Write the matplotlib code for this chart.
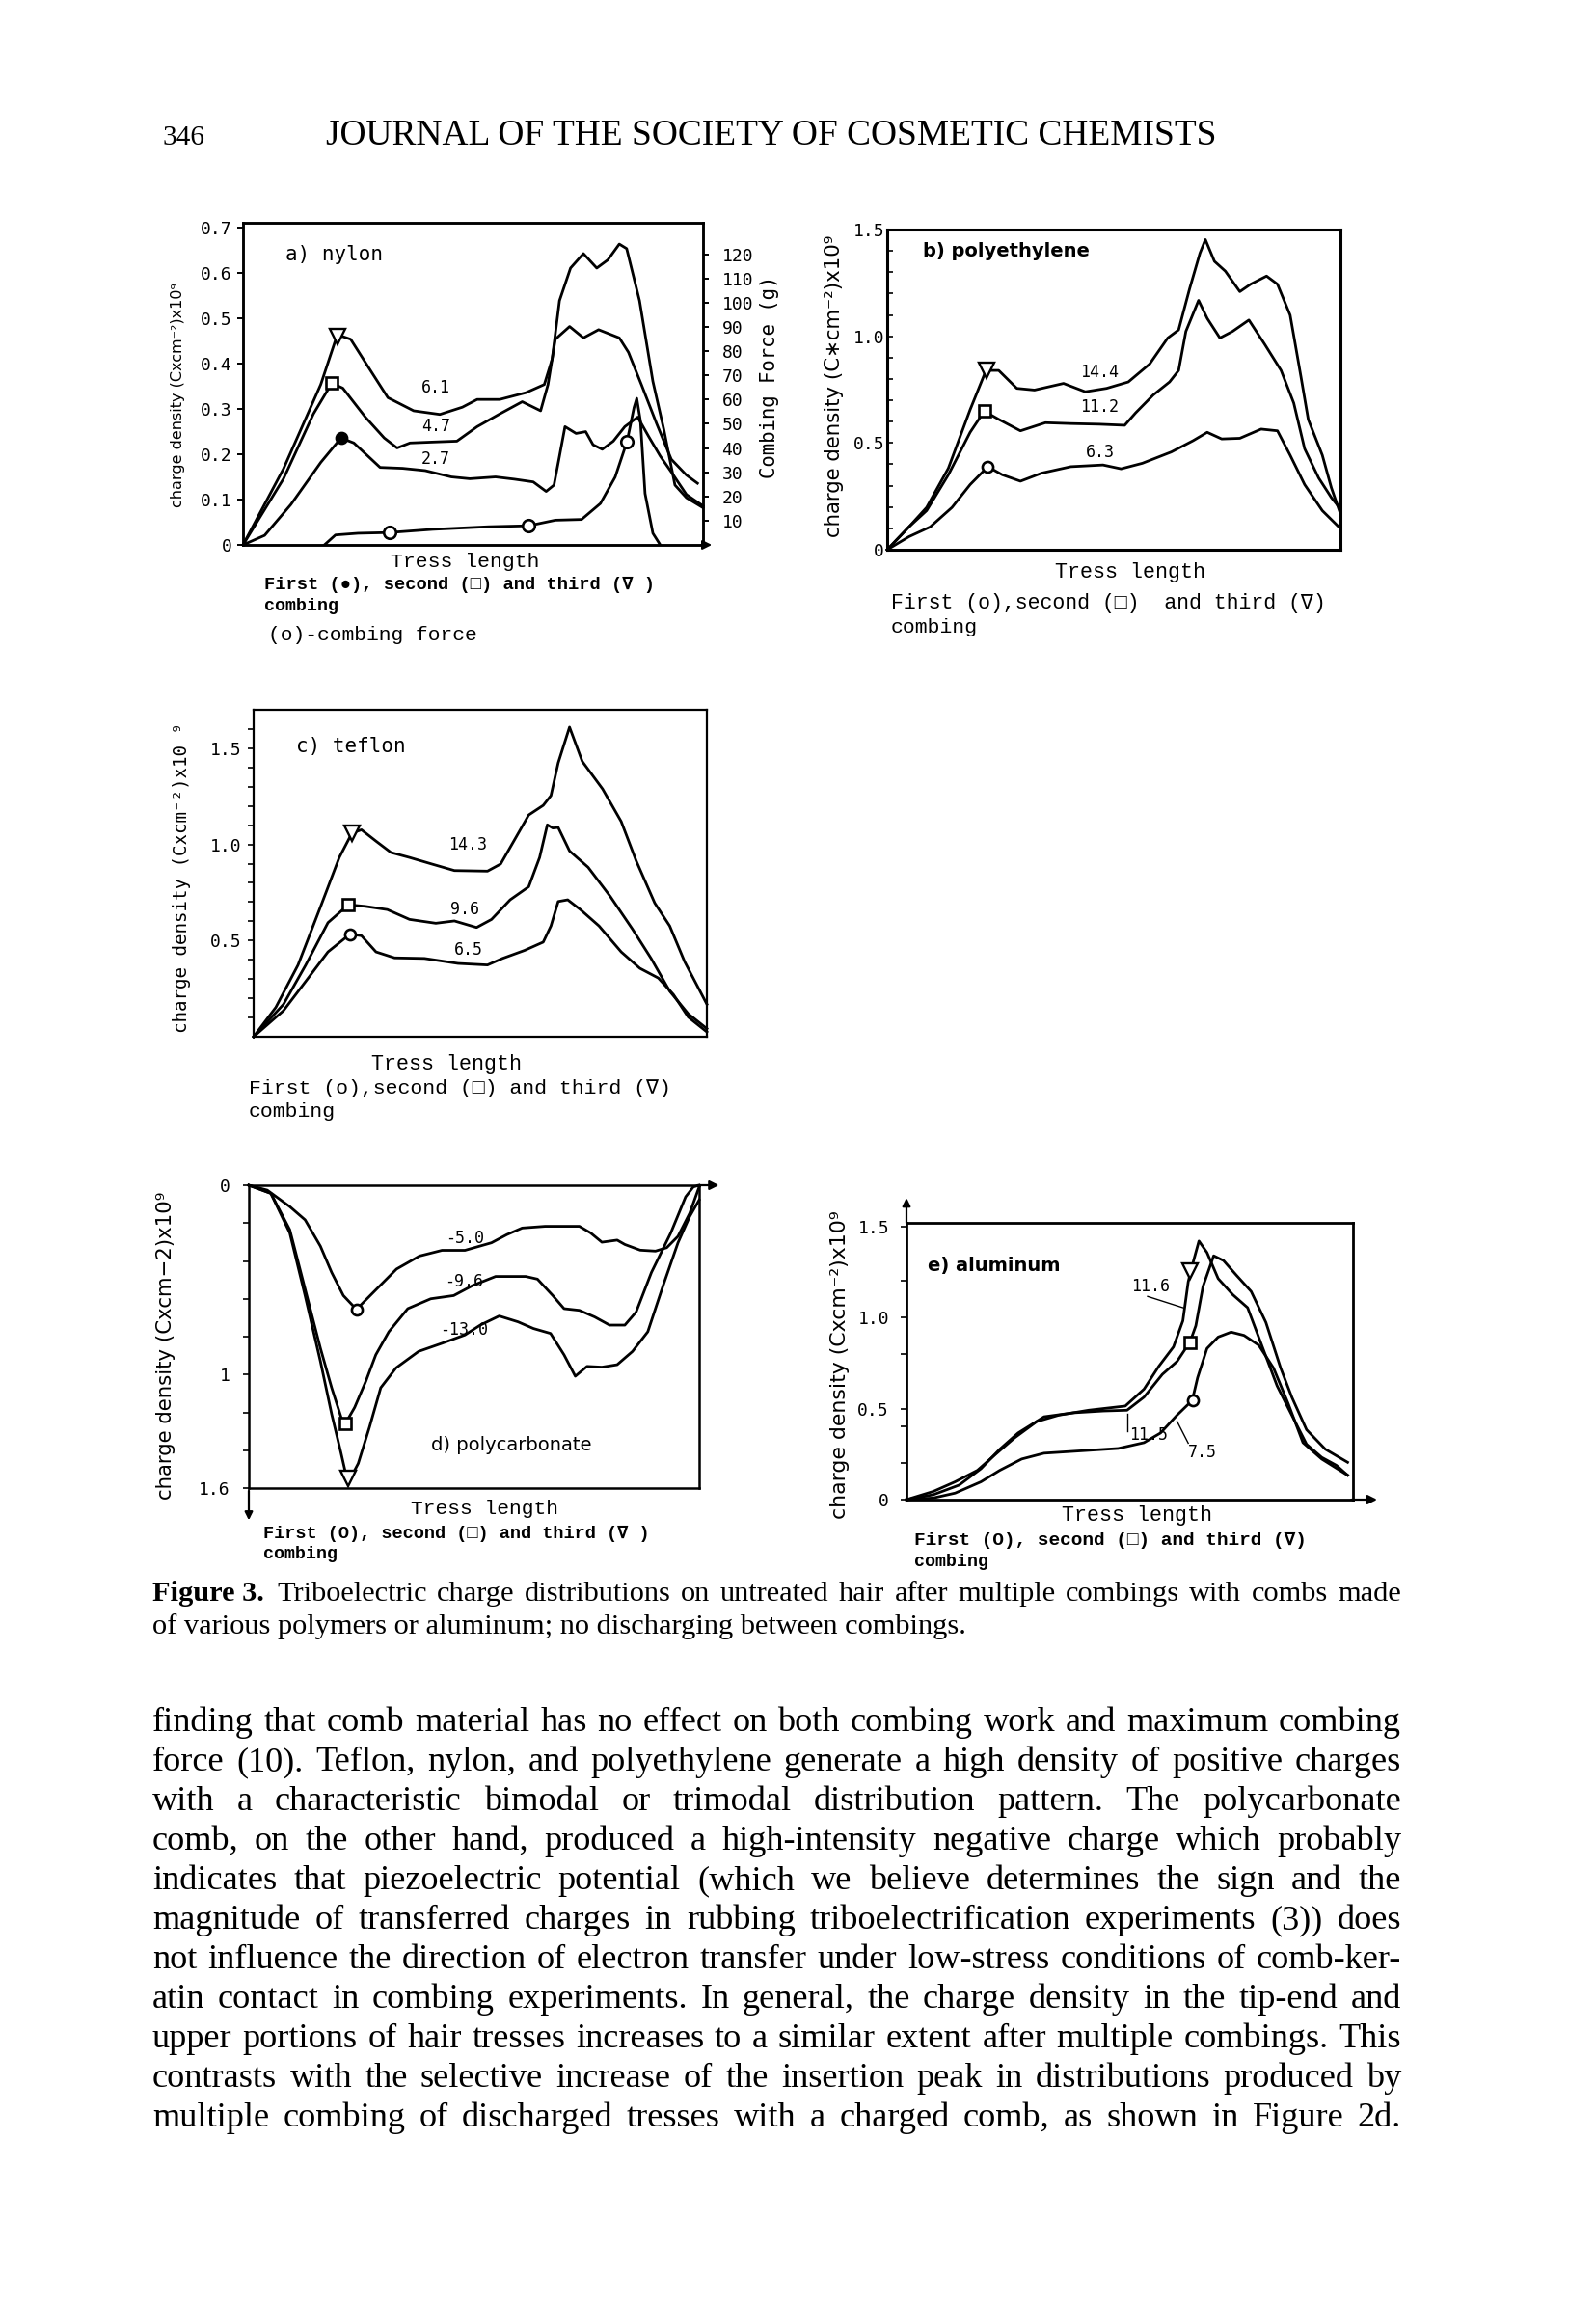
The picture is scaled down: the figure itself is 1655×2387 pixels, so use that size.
import matplotlib
matplotlib.use("Agg")
import matplotlib.pyplot as plt
from matplotlib.ticker import FixedLocator

W, H = 1655, 2387
fig = plt.figure(figsize=(W / 100, H / 100), dpi=100)
fig.patch.set_facecolor("white")
R = fig.canvas.get_renderer()

MONO = ["DejaVu Sans Mono", "DejaVu Sans"]
TYPE = ["Liberation Mono", "DejaVu Sans Mono"]
SERIF = ["Liberation Serif", "DejaVu Serif"]
SANS = ["DejaVu Sans"]

# ---------------- data ----------------
# a) nylon  (x = % of tress length, y = charge density)
a_third_x = [0, 8.8, 16.9, 20.5, 23.4, 27.4, 31.5, 37.1, 42.8, 47.7, 50.9, 55.8, 61.5, 65.5, 67.2, 68.8, 71.2, 74.0, 76.9, 79.3, 81.8, 83.4, 86.2, 89.1, 91.5, 93.9, 96.4, 100]
a_third_y = [0, 0.168, 0.354, 0.464, 0.454, 0.39, 0.325, 0.296, 0.288, 0.304, 0.321, 0.321, 0.336, 0.354, 0.41, 0.539, 0.611, 0.643, 0.611, 0.629, 0.664, 0.654, 0.539, 0.361, 0.254, 0.132, 0.104, 0.082]
a_second_x = [0, 8.8, 15.3, 19.3, 21.7, 26.6, 30.7, 33.5, 36.3, 41.2, 46.5, 50.9, 55.8, 60.7, 64.7, 66.3, 67.9, 71.0, 74.0, 77.3, 81.8, 83.8, 86.6, 89.9, 93.1, 96.4, 98.8]
a_second_y = [0, 0.146, 0.289, 0.357, 0.346, 0.282, 0.236, 0.214, 0.225, 0.227, 0.229, 0.261, 0.289, 0.316, 0.296, 0.354, 0.454, 0.482, 0.457, 0.475, 0.457, 0.425, 0.354, 0.268, 0.189, 0.154, 0.136]
a_first_x = [0, 4.7, 10.4, 16.9, 21.3, 24.1, 29.8, 34.7, 39.6, 45.3, 49.3, 54.9, 59.0, 63.1, 65.9, 67.6, 68.8, 70.0, 72.4, 74.5, 76.1, 78.1, 80.5, 83.0, 85.8, 88.2, 90.7, 93.1, 96.4, 100]
a_first_y = [0, 0.021, 0.089, 0.182, 0.236, 0.225, 0.171, 0.169, 0.164, 0.15, 0.146, 0.15, 0.145, 0.139, 0.118, 0.132, 0.196, 0.261, 0.246, 0.25, 0.221, 0.211, 0.229, 0.261, 0.282, 0.239, 0.196, 0.161, 0.111, 0.086]
a_force_x = [17.7, 20.1, 25.0, 31.9, 41.2, 53.4, 62.1, 67.9, 73.6, 77.7, 80.9, 83.5, 85.0, 85.6, 86.4, 87.4, 89.1, 90.7]
a_force_g = [0, 4.1, 4.8, 5.1, 6.4, 7.5, 7.9, 10.2, 10.5, 17.1, 28, 42.8, 56.7, 60.5, 51.2, 21.2, 4.8, 0]
a_force_mark_x = [31.9, 62.1, 83.5]
a_force_mark_g = [5.1, 7.9, 42.8]
a_marks = [(20.5, 0.46), (19.3, 0.357), (21.3, 0.236)]  # third, second, first
a_work = ["6.1", "4.7", "2.7"]
a_work_pos = [(38.8, 0.346), (38.8, 0.262), (38.8, 0.19)]
a_left_ticks = [0, 0.1, 0.2, 0.3, 0.4, 0.5, 0.6, 0.7]
a_left_labels = ["0", "0.1", "0.2", "0.3", "0.4", "0.5", "0.6", "0.7"]
a_right_ticks = [10, 20, 30, 40, 50, 60, 70, 80, 90, 100, 110, 120]

# b) polyethylene
b_third_x = [0, 4.8, 8.7, 13.5, 18.3, 21.8, 24.6, 28.6, 32.5, 38.9, 43.7, 48.4, 53.2, 57.9, 61.9, 64.3, 66.7, 69.0, 70.2, 72.2, 74.6, 77.8, 80.2, 83.7, 86.1, 88.9, 91.3, 92.9, 96.0, 98.0, 100]
b_third_y = [0, 0.107, 0.198, 0.382, 0.656, 0.84, 0.84, 0.756, 0.748, 0.779, 0.74, 0.756, 0.786, 0.87, 0.992, 1.03, 1.221, 1.389, 1.453, 1.351, 1.305, 1.209, 1.244, 1.282, 1.244, 1.099, 0.809, 0.61, 0.443, 0.29, 0.168]
b_second_x = [0, 4.8, 8.7, 13.5, 18.3, 21.4, 24.6, 29.4, 34.9, 40.5, 46.8, 52.4, 54.8, 58.7, 62.3, 64.3, 65.9, 68.7, 70.6, 73.4, 76.2, 79.8, 83.3, 86.9, 89.7, 92.1, 95.2, 98.0, 100]
b_second_y = [0, 0.107, 0.183, 0.351, 0.55, 0.649, 0.611, 0.557, 0.595, 0.591, 0.588, 0.583, 0.641, 0.725, 0.786, 0.84, 1.023, 1.168, 1.084, 0.992, 1.023, 1.076, 0.962, 0.84, 0.687, 0.473, 0.336, 0.244, 0.191]
b_first_x = [0, 4.8, 9.5, 14.3, 18.3, 22.2, 25.4, 29.4, 34.1, 40.5, 47.6, 51.6, 56.3, 62.7, 67.5, 70.6, 73.8, 77.8, 82.5, 86.1, 88.9, 92.1, 96.0, 100]
b_first_y = [0, 0.061, 0.107, 0.198, 0.305, 0.389, 0.351, 0.321, 0.359, 0.389, 0.397, 0.379, 0.405, 0.458, 0.511, 0.55, 0.519, 0.522, 0.565, 0.557, 0.443, 0.305, 0.183, 0.099]
b_marks = [(22.0, 0.84), (21.4, 0.649), (22.2, 0.389)]
b_work = ["14.4", "11.2", "6.3"]
b_work_pos = [(42.5, 0.832), (42.5, 0.668), (43.7, 0.458)]

# c) teflon
c_third_x = [0, 4.9, 9.8, 14.8, 18.9, 21.7, 23.8, 27.0, 30.3, 34.4, 39.3, 44.3, 51.6, 54.5, 57.4, 60.7, 63.9, 65.6, 67.2, 69.7, 72.5, 77.0, 81.1, 84.4, 88.5, 91.8, 95.1, 100]
c_third_y = [0, 0.153, 0.373, 0.678, 0.932, 1.059, 1.076, 1.017, 0.958, 0.932, 0.898, 0.864, 0.861, 0.898, 1.017, 1.153, 1.203, 1.254, 1.424, 1.61, 1.432, 1.288, 1.119, 0.915, 0.695, 0.576, 0.39, 0.169]
c_second_x = [0, 6.6, 11.5, 16.4, 20.9, 24.6, 29.5, 34.4, 40.2, 44.3, 49.2, 52.5, 56.6, 60.7, 63.1, 64.8, 66.0, 67.2, 69.7, 73.8, 78.7, 83.6, 87.7, 91.8, 95.9, 100]
c_second_y = [0, 0.169, 0.373, 0.593, 0.686, 0.678, 0.661, 0.61, 0.59, 0.602, 0.568, 0.61, 0.712, 0.78, 0.932, 1.102, 1.085, 1.088, 0.966, 0.881, 0.729, 0.559, 0.407, 0.237, 0.119, 0.042]
c_first_x = [0, 6.6, 11.5, 16.4, 21.3, 23.8, 27.0, 31.1, 37.7, 45.1, 51.6, 54.9, 59.8, 63.9, 65.6, 67.2, 69.3, 72.1, 76.2, 81.1, 85.2, 89.3, 92.6, 95.9, 100]
c_first_y = [0, 0.136, 0.288, 0.441, 0.534, 0.525, 0.441, 0.41, 0.407, 0.381, 0.373, 0.407, 0.449, 0.492, 0.576, 0.703, 0.712, 0.661, 0.576, 0.441, 0.356, 0.305, 0.22, 0.102, 0.025]
c_marks = [(21.7, 1.06), (20.9, 0.686), (21.3, 0.534)]
c_work = ["14.3", "9.6", "6.5"]
c_work_pos = [(43.0, 1.0), (43.4, 0.664), (44.3, 0.449)]

# d) polycarbonate (magnitude of negative charge, axis points down)
d_first_x = [0, 4.1, 9.1, 12.5, 15.9, 18.4, 21.0, 23.9, 27.7, 32.8, 37.9, 42.9, 48.0, 53.9, 57.3, 60.7, 65.8, 73.4, 75.9, 78.4, 81.8, 83.5, 86.9, 90.3, 92.8, 95.3, 97.9, 100]
d_first_y = [0, 0.026, 0.113, 0.183, 0.322, 0.461, 0.583, 0.656, 0.565, 0.443, 0.374, 0.344, 0.344, 0.304, 0.261, 0.226, 0.217, 0.217, 0.252, 0.301, 0.29, 0.313, 0.343, 0.348, 0.33, 0.27, 0.148, 0.009]
d_second_x = [0, 4.9, 9.1, 12.5, 15.9, 18.4, 20.5, 21.4, 23.5, 26.0, 28.2, 31.1, 35.3, 40.4, 45.5, 49.7, 54.8, 61.5, 64.1, 67.5, 70.0, 73.4, 76.8, 80.1, 83.5, 86.0, 89.4, 93.7, 97.0, 98.7, 100]
d_second_y = [0, 0.043, 0.235, 0.548, 0.861, 1.07, 1.226, 1.261, 1.174, 1.035, 0.896, 0.774, 0.652, 0.6, 0.583, 0.53, 0.482, 0.482, 0.496, 0.583, 0.652, 0.661, 0.696, 0.739, 0.739, 0.67, 0.461, 0.252, 0.061, 0.009, 0.0]
d_third_x = [0, 4.9, 9.1, 12.5, 15.9, 18.4, 20.5, 22.0, 24.3, 26.8, 29.3, 32.7, 37.7, 42.9, 48.0, 51.4, 55.6, 59.8, 63.2, 67.0, 70.0, 72.5, 75.1, 78.4, 81.8, 85.2, 88.6, 92.0, 95.3, 97.9, 100]
d_third_y = [0, 0.043, 0.252, 0.583, 0.93, 1.209, 1.417, 1.574, 1.47, 1.278, 1.07, 0.965, 0.878, 0.835, 0.791, 0.739, 0.691, 0.722, 0.757, 0.783, 0.896, 1.009, 0.957, 0.961, 0.948, 0.878, 0.774, 0.53, 0.304, 0.165, 0.078]
d_marks = [(22.0, 1.548), (21.4, 1.261), (23.9, 0.656)]
d_work = ["-5.0", "-9.6", "-13.0"]
d_work_pos = [(43.8, 0.278), (43.4, 0.51), (42.5, 0.765)]

# e) aluminum
e_third_x = [0, 6.0, 10.9, 15.9, 20.0, 24.2, 29.2, 34.1, 40.8, 49.0, 53.2, 56.5, 59.8, 61.9, 63.1, 64.0, 65.5, 67.3, 69.8, 73.1, 76.4, 79.7, 83.0, 86.3, 89.6, 93.0, 96.3, 98.8]
e_third_y = [0, 0.045, 0.098, 0.161, 0.25, 0.339, 0.429, 0.464, 0.491, 0.514, 0.607, 0.732, 0.839, 0.982, 1.196, 1.286, 1.42, 1.357, 1.214, 1.125, 1.054, 0.839, 0.625, 0.464, 0.304, 0.232, 0.188, 0.134]
e_second_x = [0, 6.0, 11.8, 16.7, 20.9, 25.0, 30.8, 37.4, 44.1, 49.4, 53.2, 57.3, 60.6, 63.5, 64.8, 66.4, 68.8, 71.0, 73.9, 77.2, 80.5, 83.8, 86.3, 89.6, 93.8, 98.8]
e_second_y = [0, 0.027, 0.08, 0.17, 0.277, 0.366, 0.455, 0.477, 0.487, 0.491, 0.563, 0.688, 0.759, 0.866, 0.955, 1.17, 1.339, 1.313, 1.232, 1.143, 0.973, 0.723, 0.563, 0.384, 0.277, 0.205]
e_first_x = [0, 6.0, 10.9, 16.7, 20.9, 25.8, 30.8, 39.1, 47.4, 53.2, 56.9, 60.6, 64.0, 65.2, 67.3, 69.8, 72.7, 75.6, 78.9, 82.2, 85.5, 88.8, 93.0, 98.8]
e_first_y = [0, 0.009, 0.036, 0.098, 0.161, 0.223, 0.255, 0.268, 0.281, 0.313, 0.366, 0.464, 0.545, 0.67, 0.83, 0.893, 0.92, 0.902, 0.848, 0.723, 0.527, 0.313, 0.223, 0.134]
e_marks = [(63.5, 1.255), (63.4, 0.863), (64.2, 0.545)]
e_work = ["11.6", "11.5", "7.5"]
e_work_pos = [(50.3, 1.17), (49.9, 0.357), (63.1, 0.259)]
e_leaders = [((54.0, 61.9), (1.116, 1.054)), ((49.5, 49.5), (0.473, 0.375)), ((60.6, 63.1), (0.43, 0.31))]

header_num = "346"
header_title = "JOURNAL OF THE SOCIETY OF COSMETIC CHEMISTS"
caption = ["Figure 3.", "Triboelectric charge distributions on untreated hair after multiple combings with combs made",
           "of various polymers or aluminum; no discharging between combings."]
body = [
    "finding that comb material has no effect on both combing work and maximum combing",
    "force (10). Teflon, nylon, and polyethylene generate a high density of positive charges",
    "with a characteristic bimodal or trimodal distribution pattern. The polycarbonate",
    "comb, on the other hand, produced a high-intensity negative charge which probably",
    "indicates that piezoelectric potential (which we believe determines the sign and the",
    "magnitude of transferred charges in rubbing triboelectrification experiments (3)) does",
    "not influence the direction of electron transfer under low-stress conditions of comb-ker-",
    "atin contact in combing experiments. In general, the charge density in the tip-end and",
    "upper portions of hair tresses increases to a similar extent after multiple combings. This",
    "contrasts with the selective increase of the insertion peak in distributions produced by",
    "multiple combing of discharged tresses with a charged comb, as shown in Figure 2d.",
]

# ---------------- helpers ----------------
def fx(x):
    return x / W

def fy(y):
    return 1 - y / H

def axes_px(l, t, r, b):
    return fig.add_axes([l / W, 1 - b / H, (r - l) / W, (b - t) / H])

def text_width(s, size, **kw):
    t = fig.text(0, 0, s, fontsize=size, **kw)
    w = t.get_window_extent(R).width
    t.remove()
    return w

def ftext(x, y, s, fit_w=None, fit_h=None, size=14, **kw):
    t = fig.text(fx(x), fy(y), s, fontsize=size, **kw)
    if fit_w or fit_h:
        bb = t.get_window_extent(R)
        if fit_w:
            t.set_fontsize(size * fit_w / bb.width)
        else:
            t.set_fontsize(size * fit_h / bb.height)
    return t

def justify(line, x0, x1, ybase, size, family, weight="normal"):
    words = line.split()
    widths = [text_width(w, size, family=family, weight=weight) for w in words]
    gap = (x1 - x0 - sum(widths)) / max(len(words) - 1, 1)
    x = x0
    for w, wd in zip(words, widths):
        fig.text(fx(x), fy(ybase), w, fontsize=size, family=family, weight=weight, va="baseline")
        x += wd + gap

def style_axes(ax, lw=1.8):
    for s in ax.spines.values():
        s.set_linewidth(lw)
    ax.set_xlim(0, 100)
    ax.set_xticks([])
    ax.set_facecolor("none")

LW = 2.0
MS_T, MS_S, MS_O = 12, 8, 8

def curve(ax, x, y):
    ax.plot(x, y, color="black", lw=LW, solid_joinstyle="round", clip_on=False)

def marks(ax, m, first_filled=False):
    (x3, y3), (x2, y2), (x1, y1) = m
    ax.plot([x3], [y3], marker="v", ms=MS_T, mfc="white", mec="black", mew=1.7, clip_on=False)
    ax.plot([x2], [y2], marker="s", ms=MS_S, mfc="white", mec="black", mew=1.9, clip_on=False)
    ax.plot([x1], [y1], marker="o", ms=MS_O, mfc=("black" if first_filled else "white"), mec="black", mew=1.9, clip_on=False)

def work_labels(ax, labels, pos, size=12):
    for s, (x, y) in zip(labels, pos):
        ax.text(x, y, s, fontsize=size, family=MONO, ha="left", va="center")

TICKFS = 13
LM, RM = 158, 1453

# ---------------- header ----------------
ftext(168, 150, header_num, size=26, family=SERIF, va="baseline", fit_w=44)
ftext(338, 150, header_title, size=26, family=SERIF, va="baseline", fit_w=922)

# ---------------- panel a ----------------
axa = axes_px(252, 231, 729, 565)
style_axes(axa)
axa.set_ylim(0, 0.711)
curve(axa, a_third_x, a_third_y)
curve(axa, a_second_x, a_second_y)
curve(axa, a_first_x, a_first_y)
marks(axa, a_marks, first_filled=True)
work_labels(axa, a_work, a_work_pos)
axa.text(9.2, 0.64, "a) nylon", fontsize=15, family=MONO, va="center")
axa.set_yticks(a_left_ticks)
axa.set_yticklabels(a_left_labels, family=MONO, fontsize=TICKFS)
axa.tick_params(axis="y", direction="out", length=4, width=1.4, pad=4)
axa2 = axa.twinx()
axa2.set_ylim(0, 133)
axa2.set_xlim(0, 100)
axa2.plot(a_force_x, a_force_g, color="black", lw=LW)
axa2.plot(a_force_mark_x, a_force_mark_g, ls="none", marker="o", ms=MS_O + 1, mfc="white", mec="black", mew=1.9)
axa2.set_yticks(a_right_ticks)
axa2.set_yticklabels([str(v) for v in a_right_ticks], family=MONO, fontsize=TICKFS)
axa2.tick_params(axis="y", direction="out", length=4, width=1.4, pad=10)
for s in axa2.spines.values():
    s.set_linewidth(1.8)
axa.annotate("", xy=(1.025, 0), xytext=(0.99, 0), xycoords="axes fraction",
             arrowprops=dict(arrowstyle="-|>", color="black", lw=1.5, mutation_scale=14))
ftext(184, 410, "charge density (Cxcm\u207b\u00b2)x10\u2079", size=12, family=SANS, rotation=90,
      ha="center", va="center", fit_h=232)
ftext(798, 391, "Combing Force (g)", size=15, family=MONO, rotation=90, ha="center", va="center", fit_h=212)
ftext(482, 582, "Tress length", size=15, family=TYPE, ha="center", va="center", fit_w=154)
ftext(274, 606, "First (\u25cf), second (\u25a1) and third (\u2207 )", size=13, family=TYPE,
      weight="bold", va="center", fit_w=402)
ftext(274, 628, "combing", size=13, family=TYPE, weight="bold", va="center", fit_w=76)
ftext(278, 659, "(o)-combing force", size=15, family=TYPE, va="center", fit_w=217)

# ---------------- panel b ----------------
axb = axes_px(920, 238, 1390, 570)
style_axes(axb, 2.2)
axb.set_ylim(0, 1.5)
curve(axb, b_third_x, b_third_y)
curve(axb, b_second_x, b_second_y)
curve(axb, b_first_x, b_first_y)
marks(axb, b_marks)
work_labels(axb, b_work, b_work_pos)
axb.text(7.9, 1.397, "b) polyethylene", fontsize=14, family=SANS, weight="bold", va="center")
axb.set_yticks([0, 0.5, 1.0, 1.5])
axb.set_yticklabels(["0", "0.5", "1.0", "1.5"], family=MONO, fontsize=TICKFS)
axb.yaxis.set_minor_locator(FixedLocator([0.1, 0.2, 0.3, 0.4, 0.6, 0.7, 0.8, 0.9, 1.1, 1.2, 1.3, 1.4]))
axb.tick_params(axis="y", which="both", direction="in", length=4, width=1.2, pad=2)
ftext(865, 400, "charge density (C\u2217cm\u207b\u00b2)x10\u2079", size=14, family=SANS, rotation=90,
      ha="center", va="center", fit_h=315)
ftext(1172, 593, "Tress length", size=15, family=TYPE, ha="center", va="center", fit_w=156)
ftext(924, 626, "First (o),second (\u25a1)  and third (\u2207)", size=15, family=TYPE, va="center", fit_w=453)
ftext(924, 651, "combing", size=15, family=TYPE, va="center", fit_w=90)

# ---------------- panel c ----------------
axc = axes_px(263, 736, 733, 1075)
style_axes(axc, 1.6)
axc.set_ylim(0, 1.70)
curve(axc, c_third_x, c_third_y)
curve(axc, c_second_x, c_second_y)
curve(axc, c_first_x, c_first_y)
marks(axc, c_marks)
work_labels(axc, c_work, c_work_pos)
axc.text(9.4, 1.51, "c) teflon", fontsize=15, family=MONO, va="center")
axc.set_yticks([0.5, 1.0, 1.5])
axc.set_yticklabels(["0.5", "1.0", "1.5"], family=MONO, fontsize=TICKFS)
axc.yaxis.set_minor_locator(FixedLocator([0.1, 0.2, 0.3, 0.4, 0.6, 0.7, 0.8, 0.9, 1.1, 1.2, 1.3, 1.4, 1.6]))
axc.tick_params(axis="y", which="both", direction="out", length=4, width=1.2, pad=5)
ftext(188, 910, "charge density (Cxcm\u207b\u00b2)x10 \u2079", size=14, family=MONO, rotation=90,
      ha="center", va="center", fit_h=323)
ftext(463, 1104, "Tress length", size=15, family=TYPE, ha="center", va="center", fit_w=156)
ftext(258, 1129, "First (o),second (\u25a1) and third (\u2207)", size=15, family=TYPE, va="center", fit_w=438)
ftext(258, 1152, "combing", size=15, family=TYPE, va="center", fit_w=90)

# ---------------- panel d ----------------
axd = axes_px(258, 1229, 725, 1543)
style_axes(axd, 1.8)
axd.set_ylim(1.6, 0)
curve(axd, d_first_x, d_first_y)
curve(axd, d_second_x, d_second_y)
curve(axd, d_third_x, d_third_y)
marks(axd, d_marks)
work_labels(axd, d_work, d_work_pos)
axd.text(40.4, 1.374, "d) polycarbonate", fontsize=14, family=SANS, va="center")
axd.set_yticks([0, 1.0, 1.6])
axd.set_yticklabels(["0", "1", "1.6"], family=MONO, fontsize=TICKFS)
axd.yaxis.set_minor_locator(FixedLocator([0.2, 0.4, 0.6, 0.8, 1.2, 1.4]))
axd.tick_params(axis="y", which="both", direction="out", length=4, width=1.2, pad=10)
axd.annotate("", xy=(1.05, 1), xytext=(0.99, 1), xycoords="axes fraction",
             arrowprops=dict(arrowstyle="-|>", color="black", lw=1.6, mutation_scale=14))
axd.annotate("", xy=(0, -0.115), xytext=(0, 0.0), xycoords="axes fraction",
             arrowprops=dict(arrowstyle="-|>", color="black", lw=1.6, mutation_scale=12))
ftext(172, 1395, "charge density (Cxcm\u22122)x10\u2079", size=14, family=SANS, rotation=90,
      ha="center", va="center", fit_h=320)
ftext(503, 1565, "Tress length", size=15, family=TYPE, ha="center", va="center", fit_w=153)
ftext(273, 1590, "First (O), second (\u25a1) and third (\u2207 )", size=13, family=TYPE, weight="bold",
      va="center", fit_w=401)
ftext(273, 1612, "combing", size=13, family=TYPE, weight="bold", va="center", fit_w=76)

# ---------------- panel e ----------------
axe = axes_px(940, 1268, 1403, 1555)
style_axes(axe, 2.0)
axe.set_ylim(0, 1.52)
curve(axe, e_third_x, e_third_y)
curve(axe, e_second_x, e_second_y)
curve(axe, e_first_x, e_first_y)
marks(axe, e_marks)
work_labels(axe, e_work, e_work_pos)
for (lx, ly) in e_leaders:
    axe.plot(lx, ly, color="black", lw=1.0)
axe.text(4.7, 1.286, "e) aluminum", fontsize=14, family=SANS, weight="bold", va="center")
axe.set_yticks([0, 0.5, 1.0, 1.5])
axe.set_yticklabels(["0", "0.5", "1.0", "1.5"], family=MONO, fontsize=TICKFS)
axe.yaxis.set_minor_locator(FixedLocator([0.2, 0.4, 0.8, 1.2]))
axe.tick_params(axis="y", which="both", direction="out", length=4, width=1.2, pad=9)
axe.annotate("", xy=(1.06, 0), xytext=(0.99, 0), xycoords="axes fraction",
             arrowprops=dict(arrowstyle="-|>", color="black", lw=1.6, mutation_scale=14))
axe.annotate("", xy=(0, 1.1), xytext=(0, 0.99), xycoords="axes fraction",
             arrowprops=dict(arrowstyle="-|>", color="black", lw=1.6, mutation_scale=12))
ftext(871, 1415, "charge density (Cxcm\u207b\u00b2)x10\u2079", size=14, family=SANS, rotation=90,
      ha="center", va="center", fit_h=320)
ftext(1179, 1571, "Tress length", size=15, family=TYPE, ha="center", va="center", fit_w=156)
ftext(948, 1597, "First (O), second (\u25a1) and third (\u2207)", size=13, family=TYPE, weight="bold",
      va="center", fit_w=404)
ftext(948, 1619, "combing", size=13, family=TYPE, weight="bold", va="center", fit_w=76)

# ---------------- caption ----------------
base = 18.0
w_fig = text_width(caption[0], base, family=SERIF, weight="bold")
w_l1 = text_width(caption[1], base, family=SERIF)
w_l2 = text_width(caption[2], base, family=SERIF)
s1 = base * (RM - LM - 14) * 0.985 / (w_fig + w_l1)
s2 = base * 845 / w_l2
CAP = min(s1, s2)
t = fig.text(fx(LM), fy(1660), caption[0], fontsize=CAP, family=SERIF, weight="bold", va="baseline")
w_fig = t.get_window_extent(R).width
justify(caption[1], LM + w_fig + 0.6 * CAP, RM, 1660, CAP, SERIF)
fig.text(fx(LM), fy(1694), caption[2], fontsize=CAP, family=SERIF, va="baseline")

# ---------------- body text ----------------
base = 24.0
maxw = max(text_width(l, base, family=SERIF) for l in body)
BODY = base * (RM - LM) * 0.985 / maxw
for i, line in enumerate(body):
    yb = 1795 + 41 * i
    justify(line, LM, RM, yb, BODY, SERIF)

fig.savefig("out.png", dpi=100, facecolor="white")
